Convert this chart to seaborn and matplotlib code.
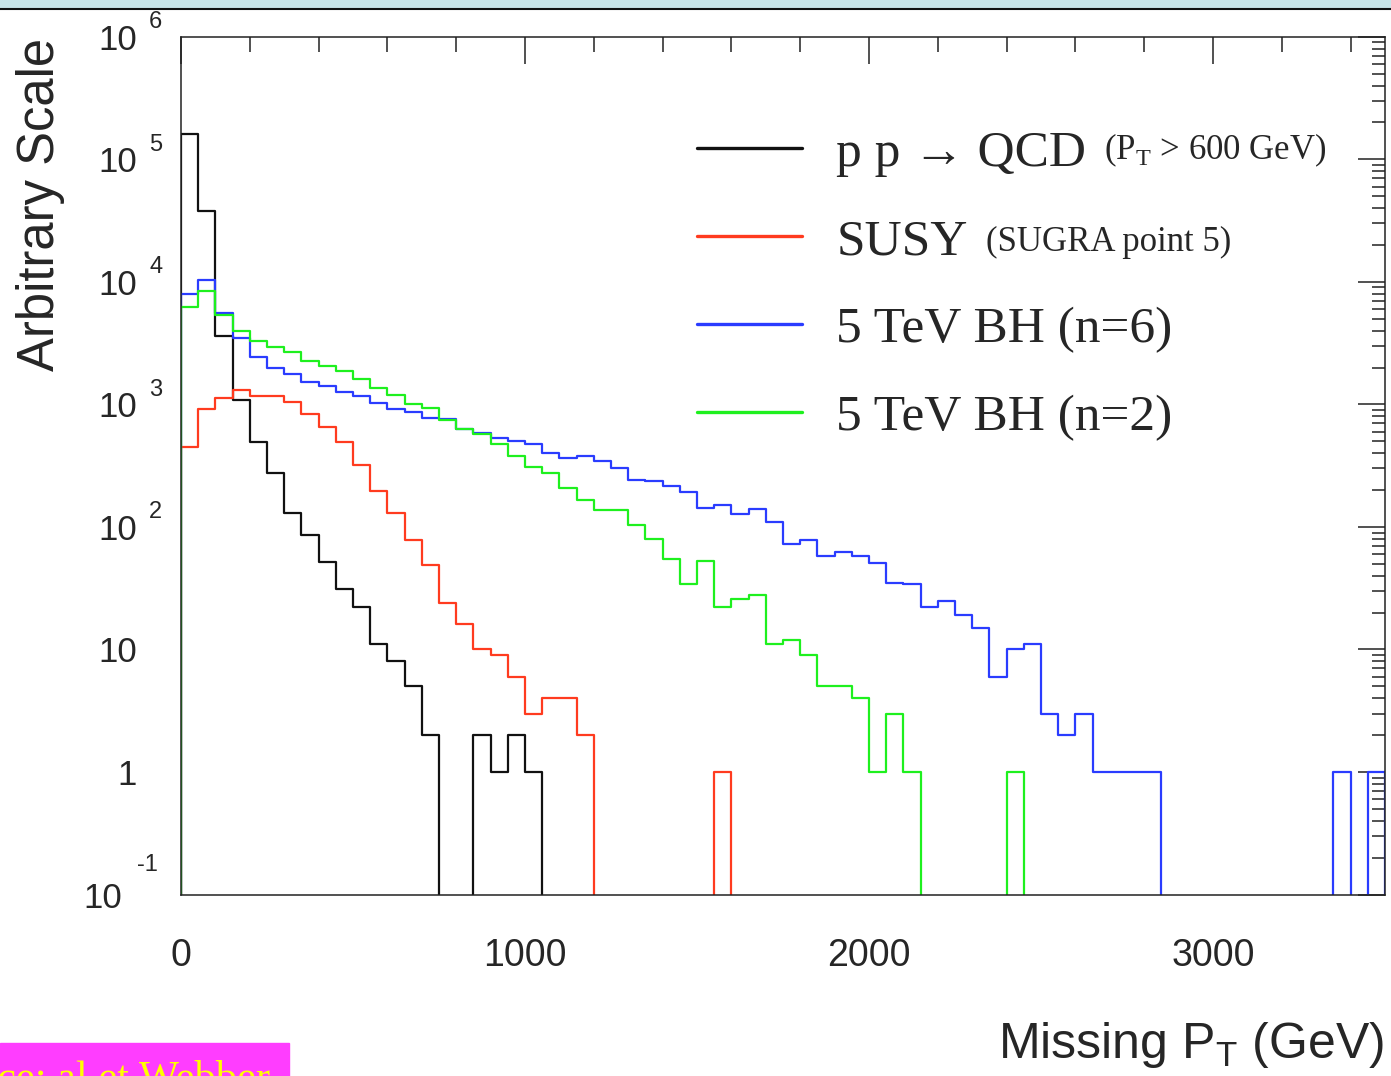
import numpy as np
import pandas as pd
import seaborn as sns
import matplotlib.pyplot as plt
from matplotlib.lines import Line2D
from matplotlib.patches import Rectangle
from matplotlib.ticker import FixedLocator, LogLocator, NullFormatter

# missing pT histograms, 50 GeV bins from 0 to 3500 GeV (70 bins)
bin_width = 50
pt_max = 3500

qcd = [160000, 38000, 3600, 1090, 490, 275, 130, 86, 52, 31,
       22, 11, 8, 5, 2, 0, 0, 2, 1, 2,
       1, 0, 0, 0, 0, 0, 0, 0, 0, 0,
       0, 0, 0, 0, 0, 0, 0, 0, 0, 0,
       0, 0, 0, 0, 0, 0, 0, 0, 0, 0,
       0, 0, 0, 0, 0, 0, 0, 0, 0, 0,
       0, 0, 0, 0, 0, 0, 0, 0, 0, 0]

susy = [450, 920, 1120, 1310, 1160, 1160, 1040, 840, 650, 490,
        320, 197, 130, 78, 49, 24, 16, 10, 9, 6,
        3, 4, 4, 2, 0, 0, 0, 0, 0, 0,
        0, 1, 0, 0, 0, 0, 0, 0, 0, 0,
        0, 0, 0, 0, 0, 0, 0, 0, 0, 0,
        0, 0, 0, 0, 0, 0, 0, 0, 0, 0,
        0, 0, 0, 0, 0, 0, 0, 0, 0, 0]

bh_n6 = [7900, 10300, 5600, 3450, 2450, 2000, 1780, 1530, 1420, 1260,
         1180, 1030, 915, 860, 780, 755, 630, 585, 530, 500,
         475, 400, 365, 382, 345, 302, 242, 236, 215, 194,
         143, 152, 128, 139, 110, 73, 78, 58, 62, 58,
         51, 35, 34, 22, 25, 19, 15, 6, 10, 11,
         3, 2, 3, 1, 1, 1, 1, 0, 0, 0,
         0, 0, 0, 0, 0, 0, 0, 1, 0, 1]

bh_n2 = [6200, 8500, 5350, 4000, 3320, 2920, 2680, 2250, 2060, 1880,
         1610, 1370, 1200, 1000, 940, 750, 635, 570, 472, 380,
         311, 274, 207, 166, 137, 137, 103, 80, 55, 34,
         53, 22, 26, 28, 11, 12, 9, 5, 5, 4,
         1, 3, 1, 0, 0, 0, 0, 0, 1, 0,
         0, 0, 0, 0, 0, 0, 0, 0, 0, 0,
         0, 0, 0, 0, 0, 0, 0, 0, 0, 0]

series = [qcd, susy, bh_n6, bh_n2]
colors = ['#111111', '#ff3b1f', '#2a3cff', '#1ef01e']
legend_main = ['p p \u2192 QCD', 'SUSY', '5 TeV BH (n=6)', '5 TeV BH (n=2)']
legend_sub = [r'(P$_{\mathrm{T}}$ > 600 GeV)', '(SUGRA point 5)', '', '']

x_ticks = [0, 1000, 2000, 3000]
x_ticklabels = ['0', '1000', '2000', '3000']
y_ticks = [0.1, 1, 10, 100, 1e3, 1e4, 1e5, 1e6]
y_tick_base = ['10', '1', '10', '10', '10', '10', '10', '10']
y_tick_exp = ['-1', '', '', '2', '3', '4', '5', '6']

sns.set_style('white')
plt.rcParams['font.family'] = ['Liberation Sans', 'DejaVu Sans']
plt.rcParams['mathtext.fontset'] = 'custom'
plt.rcParams['mathtext.rm'] = 'Liberation Serif'
plt.rcParams['mathtext.sf'] = 'Liberation Sans'
serif = ['Liberation Serif', 'DejaVu Serif']

W, H = 1391, 1076
fig = plt.figure(figsize=(W / 100, H / 100), dpi=100)
ax = fig.add_axes([181 / W, (H - 894.5) / H, 1204 / W, 857.7 / H])

# one empty bin on each side so the steps rise from / fall to the floor like ROOT
edges = list(range(-bin_width, pt_max + 2 * bin_width, bin_width))
centers = np.arange(bin_width / 2, pt_max, bin_width)
for vals, col in zip(series, colors):
    df = pd.DataFrame({'pt': centers, 'n': np.array(vals, dtype=float)})
    sns.histplot(data=df, x='pt', weights='n', bins=edges, element='step', fill=False,
                 color=col, linewidth=1.6, ax=ax)

ax.set_yscale('log')
ax.set_xlim(0, pt_max)
ax.set_ylim(0.1, 1e6)
ax.set_xlabel('')
ax.set_ylabel('')

ax.xaxis.set_major_locator(FixedLocator(x_ticks))
ax.xaxis.set_minor_locator(FixedLocator([v for v in range(200, pt_max, 200) if v % 1000]))
ax.set_xticklabels(x_ticklabels)
ax.yaxis.set_major_locator(FixedLocator(y_ticks))
ax.yaxis.set_minor_locator(LogLocator(base=10, subs=np.arange(2, 10), numticks=30))
ax.yaxis.set_minor_formatter(NullFormatter())
ax.set_yticklabels([''] * len(y_ticks))

ax.tick_params(which='both', direction='in', top=True, right=True, width=1.1, color='#222222')
ax.tick_params(which='major', length=19.5)
ax.tick_params(axis='x', which='minor', length=10.5)
ax.tick_params(axis='y', which='minor', length=9.5)
ax.tick_params(axis='x', labelsize=27, pad=31)
for sp in ax.spines.values():
    sp.set_linewidth(1.1)
    sp.set_color('#222222')

# ROOT-style "10 ^n" labels
ytr = ax.get_yaxis_transform()
for v, b, e in zip(y_ticks, y_tick_base, y_tick_exp):
    bx = -42.5 if v < 1 else -31.7
    ax.annotate(b, xy=(0, v), xycoords=ytr, xytext=(bx, 0), textcoords='offset points',
                ha='right', va='center_baseline', fontsize=25)
    if e:
        ex, ey = (-31.7, 23) if v < 1 else (-23, 12.2)
        ax.annotate(e, xy=(0, v), xycoords=ytr, xytext=(ex, ey), textcoords='offset points',
                    ha='left', va='center_baseline', fontsize=17)

fig.text(41 / W, 1 - 204 / H, 'Arbitrary Scale', rotation=90, fontsize=36.5,
         ha='center', va='center')
fig.text(1384 / W, 1 - 1058 / H, r'Missing P$_{\mathsf{T}}$ (GeV)', fontsize=36,
         ha='right', va='baseline')

handles = [Line2D([], [], color=c, lw=2.4) for c in colors]
leg = ax.legend(handles, legend_main, loc='upper left', bbox_to_anchor=(0.4286, 0.8913),
                frameon=False, prop={'family': serif, 'size': 37}, handlelength=2.05,
                handletextpad=0.66, labelspacing=0.8, borderpad=0, borderaxespad=0)

fig.canvas.draw()
raise_px = [7, 3, 0, 0]
for t, sub, r in zip(leg.get_texts(), legend_sub, raise_px):
    if not sub:
        continue
    bb = t.get_window_extent()
    fig.text((bb.x1 + 18) / W, (bb.y0 + 11.1 + r) / H, sub, fontsize=25,
             family=serif, ha='left', va='baseline')

# slide decorations: top band and the cut-off source box
fig.patches.append(Rectangle((0, 1 - 8 / H), 1, 8 / H, transform=fig.transFigure,
                             color='#c8e4e8', zorder=0))
fig.lines.append(Line2D([0, 1], [1 - 9 / H, 1 - 9 / H], transform=fig.transFigure,
                        color='#111111', lw=1.5))
fig.patches.append(Rectangle((0, 0), 289 / W, 33 / H, transform=fig.transFigure,
                             color='#ff3dff', zorder=0))
fig.text(270 / W, -14 / H, 'Source: al et Webber', color='#ffff00', fontsize=30.5,
         family=serif, ha='right', va='baseline')

fig.savefig('out.png', dpi=100)
